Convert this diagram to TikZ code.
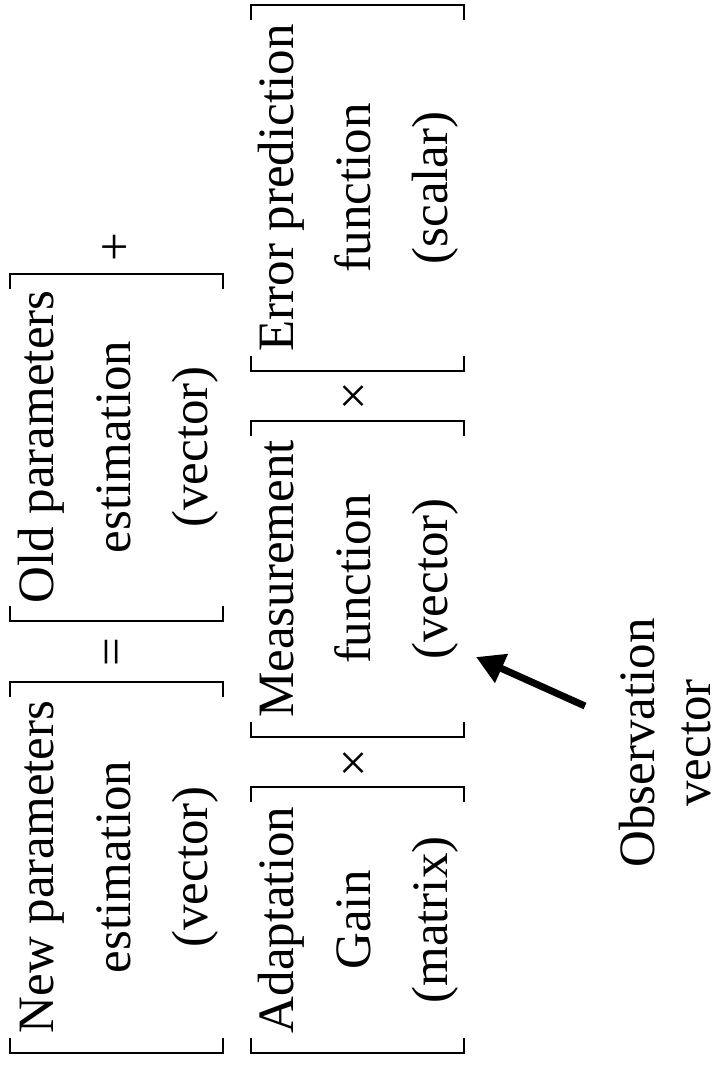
\documentclass[tikz,border=0pt]{standalone}
\usepackage{fontspec}
\setmainfont{Liberation Serif}
\usetikzlibrary{arrows.meta}
\begin{document}
\begin{tikzpicture}[x=1pt,y=-1pt,
  blocktext/.style={rotate=90,anchor=base,align=center,inner sep=0pt,font=\fontsize{51}{77}\selectfont},
  optext/.style={rotate=90,anchor=center,inner sep=0pt,font=\fontsize{51}{61}\selectfont},
  obstext/.style={rotate=90,anchor=base,align=center,inner sep=0pt,font=\fontsize{51}{56}\selectfont},
  brk/.style={line width=2.5pt,line cap=butt,line join=miter},
  bigarrow/.style={line width=7pt,-{Triangle[length=28pt,width=30pt]}}]
\useasboundingbox (0,0) rectangle (720,1068);
\fill[white] (0,0) rectangle (720,1068);
% brackets: left x, top y, right x, bottom y
\newcommand\bracketpair[4]{%
  \draw[brk] (#1,#2+15) -- (#1,#2) -- (#3,#2) -- (#3,#2+15);
  \draw[brk] (#1,#4-15) -- (#1,#4) -- (#3,#4) -- (#3,#4-15);}
\bracketpair{10}{682}{223}{1053}
\bracketpair{10}{274}{223}{621}
\bracketpair{251}{5}{464}{371}
\bracketpair{251}{421}{464}{737}
\bracketpair{251}{787}{464}{1053}
% texts (base anchor = baseline of the last line)
\node[blocktext] (newp) at (207,867) {New parameters\\estimation\\(vector)};
\node[blocktext] (oldp) at (207,447) {Old parameters\\estimation\\(vector)};
\node[blocktext] (err) at (447,188) {Error prediction\\function\\(scalar)};
\node[blocktext] (meas) at (447,579) {Measurement\\function\\(vector)};
\node[blocktext] (gain) at (447,920) {Adaptation\\Gain\\(matrix)};
% operators
\node[optext] (eq) at (117,652) {=};
\node[optext] (plus) at (117,247) {+};
\node[optext] (times1) at (357,396) {×};
\node[optext] (times2) at (357,763) {×};
% observation
\node[obstext] (obs) at (710,743) {Observation\\vector};
\coordinate (arrtail) at (585,706);
\coordinate (arrtip) at (476,657);
\draw[bigarrow] (arrtail) -- (arrtip);
\end{tikzpicture}
\end{document}
